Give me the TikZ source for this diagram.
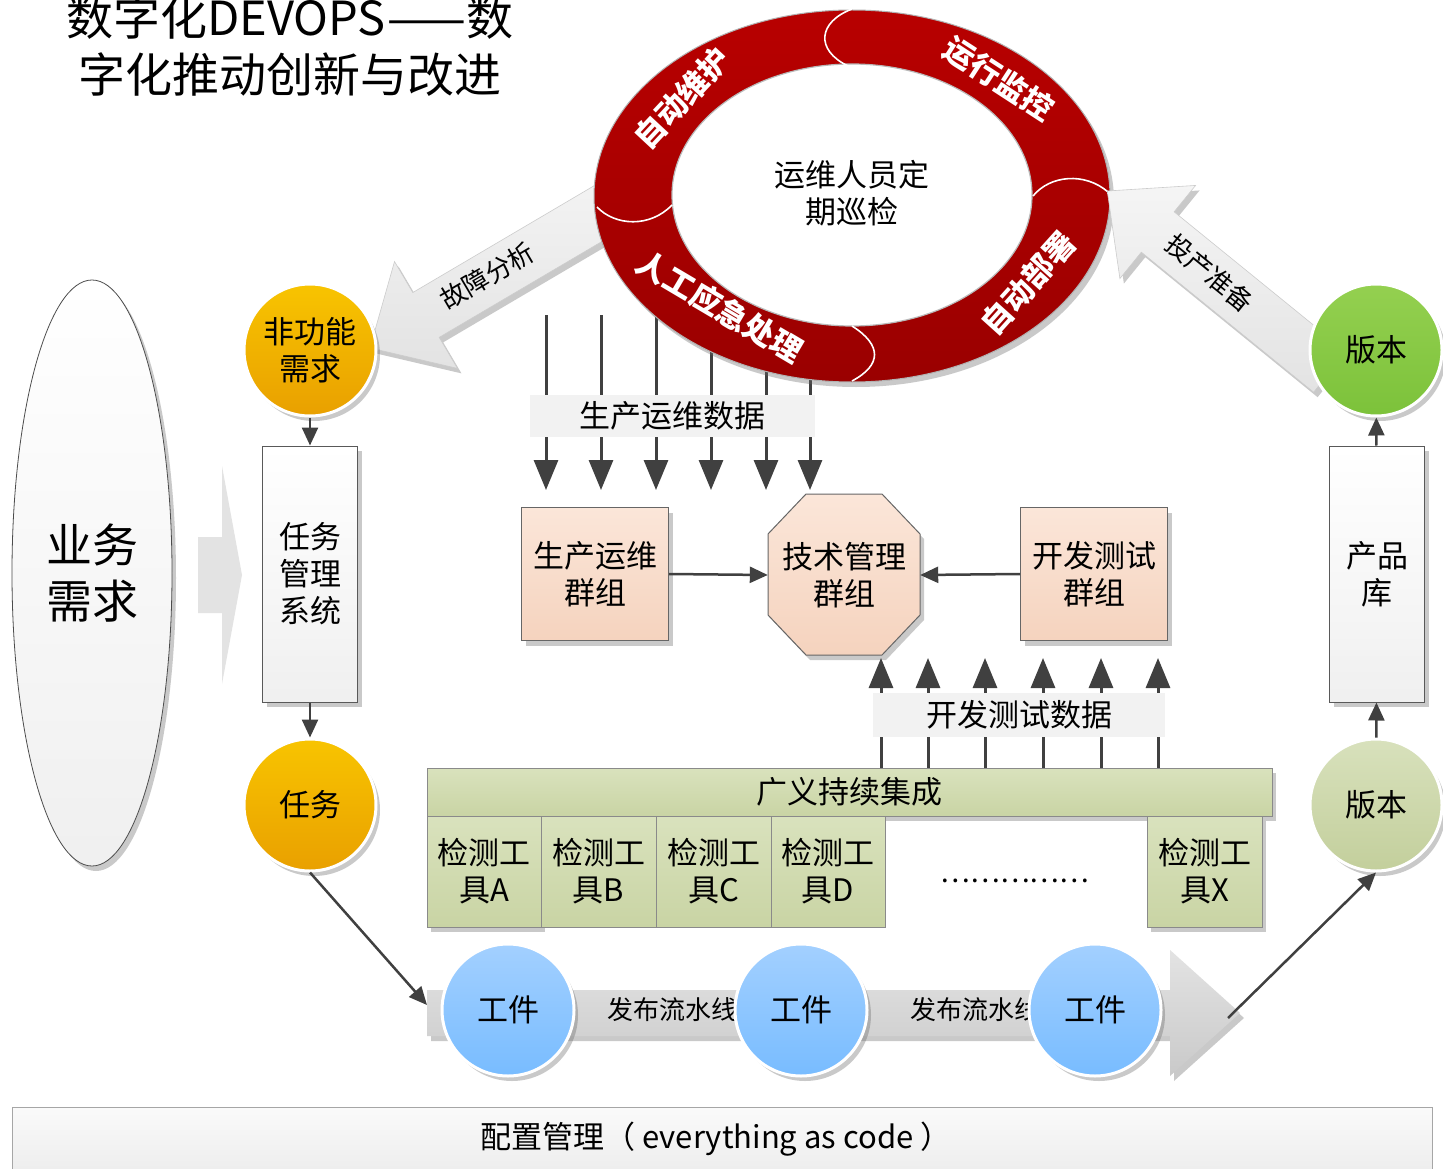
\documentclass[tikz,border=0pt]{standalone}
\usepackage{fontspec}
\setmainfont{Noto Sans CJK SC}
\usetikzlibrary{shadows,arrows.meta,shapes.geometric}
\definecolor{ringred}{HTML}{B80000}
\definecolor{ringdark}{HTML}{9A0000}
\definecolor{arrowgray}{HTML}{404040}
\definecolor{orangetop}{HTML}{F8C400}
\definecolor{orangebot}{HTML}{E9A000}
\definecolor{greentop}{HTML}{94D050}
\definecolor{greenbot}{HTML}{7CC23A}
\definecolor{olivetop}{HTML}{D8E1BC}
\definecolor{olivebot}{HTML}{C3CF9C}
\definecolor{bluetop}{HTML}{A3D0FF}
\definecolor{bluebot}{HTML}{78BCFF}
\definecolor{peachtop}{HTML}{FBE6D9}
\definecolor{peachbot}{HTML}{F5D3BE}
\definecolor{citop}{HTML}{D9E2BD}
\definecolor{cibot}{HTML}{C9D4A4}
\definecolor{cidraw}{HTML}{8A8A8A}
\begin{document}
\begin{tikzpicture}[x=1pt,y=-1pt,
  every node/.style={inner sep=0pt, align=center},
  t31/.style={font=\fontsize{31pt}{37pt}\selectfont},
  t26/.style={font=\fontsize{26pt}{31pt}\selectfont},
  t46/.style={font=\fontsize{46pt}{56pt}\selectfont},
  shad/.style={drop shadow={shadow xshift=4pt, shadow yshift=-5pt, opacity=0.35, fill=black!60}},
  ball/.style={circle, minimum size=132pt, draw=white, line width=3pt, shad, t31},
  orangeball/.style={ball, top color=orangetop, bottom color=orangebot},
  greenball/.style={ball, top color=greentop, bottom color=greenbot},
  oliveball/.style={ball, top color=olivetop, bottom color=olivebot},
  blueball/.style={ball, top color=bluetop, bottom color=bluebot},
  sysbox/.style={rectangle, draw=gray!70!black, line width=1pt, top color=white, bottom color=gray!12, minimum width=95pt, minimum height=256pt, shad, t31},
  peachbox/.style={rectangle, draw=gray!80!black, line width=1pt, top color=peachtop, bottom color=peachbot, minimum width=147pt, minimum height=133pt, shad, t31},
  databox/.style={rectangle, fill=gray!10, t31},
  cibox/.style={rectangle, draw=cidraw, line width=0.8pt, top color=citop, bottom color=cibot, t31},
  toolbox/.style={cibox, minimum height=111pt},
  arr/.style={draw=arrowgray, line width=2.5pt, -{Triangle[length=18pt,width=16pt]}},
  bigarr/.style={draw=arrowgray, line width=3pt, -{Triangle[length=30pt,width=24pt]}},
  blockarr/.style={top color=gray!8, bottom color=gray!22, draw=gray!40, line width=0.6pt, shad},
  ringtxt/.style={text=white, font=\fontsize{31pt}{36pt}\selectfont\bfseries},
  seam/.style={draw=white, line width=1.6pt}
]
\useasboundingbox (0,0) rectangle (1443,1169);
\fill[white] (0,0) rectangle (1443,1169);

% title
\node[font=\fontsize{47pt}{57pt}\selectfont] (title) at (290,46) {数字化DEVOPS\kern2pt——数\\字化推动创新与改进};

% faint arrow behind left
\fill[gray!22] (198,537) -- (222,537) -- (222,466) -- (242,575) -- (222,684) -- (222,613) -- (198,613) -- cycle;

% big ellipse
\node[ellipse, minimum width=160pt, minimum height=586pt, draw=gray!60!black, line width=0.8pt,
      top color=white, bottom color=gray!12, shad, t46] (biz) at (92,573) {业务\\需求};

% fault analysis block arrow
\begin{scope}[shift={(650,183)}, rotate=210.5]
  \path[blockarr] (0,-26) -- (260,-26) -- (260,-62) -- (325,0) -- (260,62) -- (260,26) -- (0,26) -- cycle;
\end{scope}
\node[t26, rotate=30.5] (fault) at (487,276) {故障分析};

% production data arrows (down)
\foreach \i/\xx in {1/546,2/601,3/656,4/711,5/766,6/810}{
  \coordinate (pt\i) at (\xx,315);
  \coordinate (pb\i) at (\xx,490);
  \draw[bigarr] (pt\i) -- (pb\i);
}

% ring
\shade[top color=ringred, bottom color=ringdark, draw=gray!60, line width=1pt, shad]
  (852,196) ellipse [x radius=258, y radius=186];
\fill[white, draw=gray!55, line width=1.2pt] (852,195) ellipse [x radius=180, y radius=131];
\draw[seam] (852,9) .. controls (818,22) and (815,50) .. (848,66);
\draw[seam] (597,207) .. controls (615,226) and (650,228) .. (672,205);
\draw[seam] (1033,196) .. controls (1050,175) and (1085,172) .. (1108,192);
\draw[seam] (852,326) .. controls (882,345) and (882,365) .. (852,381);
\node[ringtxt, rotate=47] (r1) at (682,98) {自动维护};
\node[ringtxt, rotate=-33] (r2) at (999,79) {运行监控};
\node[ringtxt, rotate=48] (r3) at (1028,283) {自动部署};
\node[ringtxt, rotate=-30.6] (r4) at (720,307) {人工应急处理};
\node[t31] (patrol) at (852,193) {运维人员定\\期巡检};

% release prep block arrow
\begin{scope}[shift={(1330,372)}, rotate=140.9]
  \path[blockarr] (0,-26) -- (222,-26) -- (222,-60) -- (287,0) -- (222,60) -- (222,26) -- (0,26) -- cycle;
\end{scope}
\node[t26, rotate=-39.1] (prep) at (1210,273) {投产准备};

% left column
\node[orangeball] (nfr) at (310,350) {非功能\\需求};
\node[sysbox] (tms) at (310,574) {任务\\管理\\系统};
\node[orangeball] (task) at (310,805) {任务};
\draw[arr] (nfr) -- (tms);
\draw[arr] (tms) -- (task);

% right column
\node[greenball] (ver1) at (1376,350) {版本};
\node[sysbox] (prodlib) at (1377,574) {产品\\库};
\node[oliveball] (ver2) at (1376,805) {版本};
\draw[arr] (prodlib) -- (ver1);
\draw[arr] (ver2) -- (prodlib);

% production data label
\node[databox, minimum width=285pt, minimum height=42pt] (pdata) at (672,416) {生产运维数据};

% groups
\node[peachbox] (prod) at (595,574) {生产运维\\群组};
\node[peachbox] (dev) at (1094,574) {开发测试\\群组};
\path[draw=gray!80!black, line width=1pt, top color=peachtop, bottom color=peachbot, shad]
  (806,494) -- (882,494) -- (920,534) -- (920,615) -- (882,655) -- (806,655) -- (768,615) -- (768,534) -- cycle;
\node[t31, minimum width=152pt, minimum height=161pt] (tech) at (844,575) {技术管理\\群组};
\draw[arr] (prod.east) -- (tech.west);
\draw[arr] (dev.west) -- (tech.east);

% dev test data arrows (up)
\foreach \i/\xx in {1/881,2/928,3/985,4/1043,5/1101,6/1158}{
  \coordinate (ub\i) at (\xx,768);
  \coordinate (ut\i) at (\xx,658);
  \draw[bigarr] (ub\i) -- (ut\i);
}
\node[databox, minimum width=292pt, minimum height=44pt] (ddata) at (1019,715) {开发测试数据};

% CI
\node[cibox, minimum width=845pt, minimum height=48pt, shad] (ci) at (849.5,792) {广义持续集成};
\node[toolbox, minimum width=114pt, shad] (ta) at (484,871.5) {检测工\\具A};
\node[toolbox, minimum width=115pt] (tb) at (598.5,871.5) {检测工\\具B};
\node[toolbox, minimum width=115pt] (tc) at (713.5,871.5) {检测工\\具C};
\node[toolbox, minimum width=114pt] (td) at (828,871.5) {检测工\\具D};
\node[toolbox, minimum width=115pt, shad] (tx) at (1204.5,871.5) {检测工\\具X};
\node[font=\fontsize{28pt}{30pt}\selectfont] (dots) at (1015,881) {……………};

% pipeline
\path[top color=gray!22, bottom color=gray!42, shad]
  (427,990) -- (1170,990) -- (1170,950) -- (1240,1013) -- (1170,1076) -- (1170,1036) -- (427,1036) -- cycle;
\node[t26] (pl1) at (672,1010) {发布流水线};
\node[t26] (pl2) at (975,1010) {发布流水线};
\node[blueball] (w1) at (508,1010) {工件};
\node[blueball] (w2) at (801,1010) {工件};
\node[blueball] (w3) at (1095,1010) {工件};
\coordinate (pipein) at (427,1005);
\coordinate (pipeout) at (1228,1018);
\draw[arr] (task.south) -- (pipein);
\draw[arr] (pipeout) -- (ver2.south);

% config management bar
\path[top color=gray!4, bottom color=gray!16, draw=gray!70, line width=1pt] (12,1107) rectangle (1432,1185);
\node[t31] (cfg) at (716,1139) {配置管理（ everything as code ）};
\end{tikzpicture}
\end{document}
